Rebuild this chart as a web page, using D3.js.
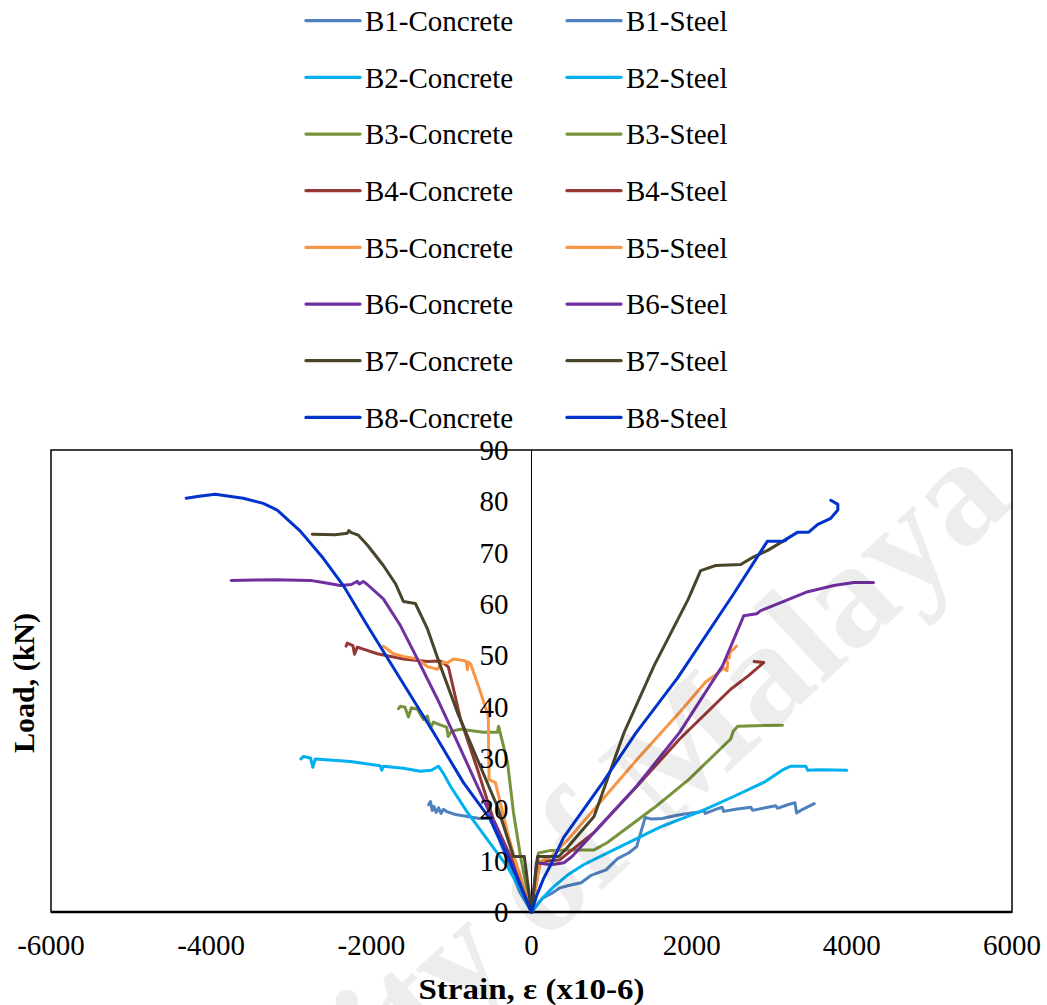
<!DOCTYPE html>
<html>
<head>
<meta charset="utf-8">
<script src="https://cdn.jsdelivr.net/npm/d3@7"></script>
<style>
  body { margin: 0; background: #fff; }
  text { font-family: "Liberation Serif", "Times New Roman", serif; }
</style>
</head>
<body>
<div id="chart"></div>
<script>
const width = 1047;
const height = 1005;

// tick labels
const xTicks = [-6000, -4000, -2000, 0, 2000, 4000, 6000];
const yTicks = [0, 10, 20, 30, 40, 50, 60, 70, 80, 90];

const beams = ["B1", "B2", "B3", "B4", "B5", "B6", "B7", "B8"];
const colors = ["#4F81BD", "#00B0F0", "#77933C", "#953735", "#F79646", "#7030A0", "#4A452A", "#0033CC"];

// [strain (x10-6), load (kN)], concrete = compressive side
const b1Concrete = [[0,0],[-150,4],[-250,8],[-400,14],[-520,18.2],[-650,18.2],[-800,18.6],[-950,19],[-1050,19.5],[-1100,20],[-1130,19.2],[-1160,20.3],[-1190,19.4],[-1220,20.6],[-1240,19.8],[-1262,21.5],[-1285,20.9]];
const b1Steel = [[0,0],[137,2.7],[250,3.6],[356,4.7],[450,5.1],[619,5.7],[750,7.2],[931,8.2],[1075,10.4],[1212,11.5],[1312,12.7],[1419,18.4],[1500,18.1],[1631,18.2],[1800,18.8],[1950,19.2],[2100,19.5],[2150,19.8],[2170,19.2],[2300,20],[2380,20.4],[2400,19.6],[2550,20],[2740,20.4],[2760,19.8],[2950,20.4],[3050,20.7],[3070,20.2],[3200,20.9],[3290,21.3],[3310,19.3],[3400,20.1],[3530,21.1]];

const b2Concrete = [[0,0],[-60,2],[-137,4.3],[-300,8.8],[-550,14.1],[-800,19.4],[-1012,24.5],[-1100,27],[-1162,28.4],[-1250,27.6],[-1387,27.4],[-1600,28],[-1850,28.4],[-1870,27.6],[-1890,28.5],[-2262,29.3],[-2700,29.8],[-2730,28.2],[-2760,30],[-2850,30.3],[-2880,29.8]];
const b2Steel = [[0,0],[60,1.2],[150,2.9],[275,4.9],[450,7.2],[650,9.2],[950,11.5],[1237,13.7],[1612,16.6],[2112,19.6],[2525,22.5],[2920,25.4],[3150,27.8],[3237,28.4],[3425,28.4],[3450,27.6],[3600,27.7],[3937,27.6]];

const b3Concrete = [[0,0],[-137,10.8],[-225,19.4],[-300,29.2],[-412,36.2],[-425,35],[-600,35],[-887,35.6],[-1000,35.2],[-1040,34.2],[-1060,36],[-1150,36.5],[-1225,37],[-1260,35.8],[-1300,38.2],[-1350,37.5],[-1425,39.5],[-1500,39.8],[-1537,38],[-1580,39.9],[-1637,40.1],[-1660,39.6]];
const b3Steel = [[0,0],[87,11.5],[244,12],[500,12.1],[781,12.1],[944,13.5],[1531,20.3],[1962,25.8],[2487,33.7],[2519,35.2],[2575,36.2],[3134,36.4]];

const b4Concrete = [[0,0],[-225,9.6],[-475,18],[-675,27.8],[-887,37.6],[-1037,47.7],[-1100,48.6],[-1150,48.9],[-1300,48.8],[-1600,49.3],[-1925,50.3],[-2100,51.2],[-2175,51.6],[-2210,50.2],[-2230,51.9],[-2300,52.4],[-2315,51.8]];
const b4Steel = [[0,0],[106,9.8],[356,10.2],[781,15.5],[1317,24.5],[1850,33.7],[2487,43.4],[2706,46],[2900,48.6],[2780,48.8]];

const b5Concrete = [[0,0],[-225,11.2],[-300,15.5],[-450,25.2],[-530,25.8],[-540,38.2],[-662,44],[-760,48.3],[-790,48.7],[-800,47.2],[-815,48.8],[-850,49],[-975,49.3],[-1050,48.5],[-1100,48.7],[-1175,47.3],[-1300,47.8],[-1425,49.3],[-1600,49.8],[-1725,50.3],[-1850,51.8]];
const b5Steel = [[0,0],[106,9.8],[244,10.8],[456,14.1],[887,21.9],[1317,29.7],[1850,38.9],[2175,44.8],[2300,46.2],[2400,47.5],[2440,47],[2450,48.6],[2420,49.2],[2470,49.5],[2480,50.6],[2530,51.3],[2560,51.8]];

const b6Concrete = [[0,0],[-225,8.8],[-425,16],[-675,24.5],[-925,33.1],[-1175,41.5],[-1425,49.3],[-1637,55.8],[-1850,61],[-2050,63.8],[-2100,64.4],[-2150,63.9],[-2175,64.4],[-2250,63.8],[-2387,63.6],[-2600,64.2],[-2762,64.6],[-3200,64.7],[-3750,64.6]];
const b6Steel = [[0,0],[62,9.6],[244,9.2],[406,9.6],[506,10.8],[781,15.5],[1312,24.5],[1850,35],[2387,48],[2650,57.7],[2812,58.1],[2862,58.7],[3150,60.5],[3450,62.4],[3775,63.6],[4025,64.2],[4270,64.2]];

const b7Concrete = [[0,0],[-90,10.8],[-225,10.8],[-425,20.5],[-675,29.7],[-925,38.9],[-1137,47.9],[-1300,55.2],[-1450,60.1],[-1600,60.5],[-1700,64],[-1850,67.5],[-2050,71.5],[-2162,73.4],[-2250,73.9],[-2280,74.3],[-2300,73.8],[-2450,73.5],[-2737,73.6]];
const b7Steel = [[0,0],[75,10.8],[340,10.8],[456,12.7],[781,18.6],[1157,35],[1531,48],[1959,61],[2112,66.5],[2150,66.7],[2300,67.5],[2612,67.7],[2775,69.2],[2944,70.4],[3137,72.2],[3175,72.4]];

const b8Concrete = [[0,0],[-262,9.6],[-512,18],[-850,25.2],[-1225,35],[-1637,45.4],[-2050,55.8],[-2350,63.6],[-2600,68.9],[-2887,74.2],[-3175,78.3],[-3350,79.6],[-3600,80.6],[-3950,81.4],[-4150,81],[-4312,80.6]];
const b8Steel = [[0,0],[60,3],[150,6.5],[250,9.5],[400,14.5],[862,24.6],[1300,34.8],[1825,45.6],[2525,62],[2862,70.2],[2944,72.2],[3137,72.2],[3325,74],[3462,74],[3575,75.5],[3737,76.7],[3825,78.3],[3825,79.4],[3737,80.2]];

const concrete = [b1Concrete, b2Concrete, b3Concrete, b4Concrete, b5Concrete, b6Concrete, b7Concrete, b8Concrete];
const steel = [b1Steel, b2Steel, b3Steel, b4Steel, b5Steel, b6Steel, b7Steel, b8Steel];

const series = [];
beams.forEach((b, i) => {
    series.push({ name: b + "-Concrete", color: colors[i], data: concrete[i], col: 0, row: i });
    series.push({ name: b + "-Steel", color: colors[i], data: steel[i], col: 1, row: i });
});

const svg = d3.select("#chart")
    .append("svg")
    .attr("width", width)
    .attr("height", height)
    .attr("viewBox", [0, 0, width, height]);

const x = d3.scaleLinear().domain([-6000, 6000]).range([51, 1012]);
const y = d3.scaleLinear().domain([0, 90]).range([912, 450]);

// plot area frame
svg.append("rect")
    .attr("x", x(-6000)).attr("y", y(90))
    .attr("width", x(6000) - x(-6000)).attr("height", y(0) - y(90))
    .attr("fill", "#fff").attr("stroke", "#000").attr("stroke-width", 1.5);

// vertical axis at strain = 0
svg.append("line")
    .attr("x1", x(0)).attr("x2", x(0))
    .attr("y1", y(0)).attr("y2", y(90))
    .attr("stroke", "#000").attr("stroke-width", 1);

// horizontal axis at load = 0
svg.append("line")
    .attr("x1", x(-6000)).attr("x2", x(6000))
    .attr("y1", y(0)).attr("y2", y(0))
    .attr("stroke", "#000").attr("stroke-width", 2.5);

const line = d3.line()
    .x(d => x(d[0]))
    .y(d => y(d[1]));

svg.append("g")
    .selectAll("path")
    .data(series)
    .join("path")
    .attr("d", d => line(d.data))
    .attr("fill", "none")
    .attr("stroke", d => d.color)
    .attr("stroke-width", 3)
    .attr("stroke-linejoin", "round")
    .attr("stroke-linecap", "round");

// tick labels
svg.append("g")
    .selectAll("text")
    .data(yTicks)
    .join("text")
    .attr("x", x(0) - 23)
    .attr("y", d => y(d))
    .attr("dy", "0.35em")
    .attr("text-anchor", "end")
    .attr("font-size", 29)
    .text(d => d);

svg.append("g")
    .selectAll("text")
    .data(xTicks)
    .join("text")
    .attr("x", d => x(d))
    .attr("y", 955)
    .attr("text-anchor", "middle")
    .attr("font-size", 29)
    .text(d => d);

// axis titles
svg.append("text")
    .attr("x", x(0))
    .attr("y", 999)
    .attr("text-anchor", "middle")
    .attr("font-size", 30)
    .attr("font-weight", "bold")
    .attr("textLength", 226)
    .attr("lengthAdjust", "spacingAndGlyphs")
    .text("Strain, ε (x10-6)");

svg.append("text")
    .attr("transform", "translate(34,683) rotate(-90)")
    .attr("text-anchor", "middle")
    .attr("font-size", 30)
    .attr("font-weight", "bold")
    .text("Load, (kN)");

// legend
const legend = svg.append("g")
    .selectAll("g")
    .data(series)
    .join("g")
    .attr("transform", d => `translate(${d.col ? 567 : 306},${20.7 + d.row * 56.67})`);

legend.append("line")
    .attr("x1", 0).attr("x2", 54)
    .attr("stroke", d => d.color)
    .attr("stroke-width", 3.3)
    .attr("stroke-linecap", "round");

legend.append("text")
    .attr("x", 59)
    .attr("dy", "0.35em")
    .attr("font-size", 29)
    .text(d => d.name);

// watermark
svg.append("text")
    .attr("transform", "translate(1016,504) rotate(-43)")
    .attr("text-anchor", "end")
    .attr("font-family", "'Liberation Sans', Arial, sans-serif")
    .attr("font-weight", "bold")
    .attr("font-size", 150)
    .attr("fill", "#000")
    .attr("fill-opacity", 0.07)
    .text("University of Malaya");
</script>
</body>
</html>
